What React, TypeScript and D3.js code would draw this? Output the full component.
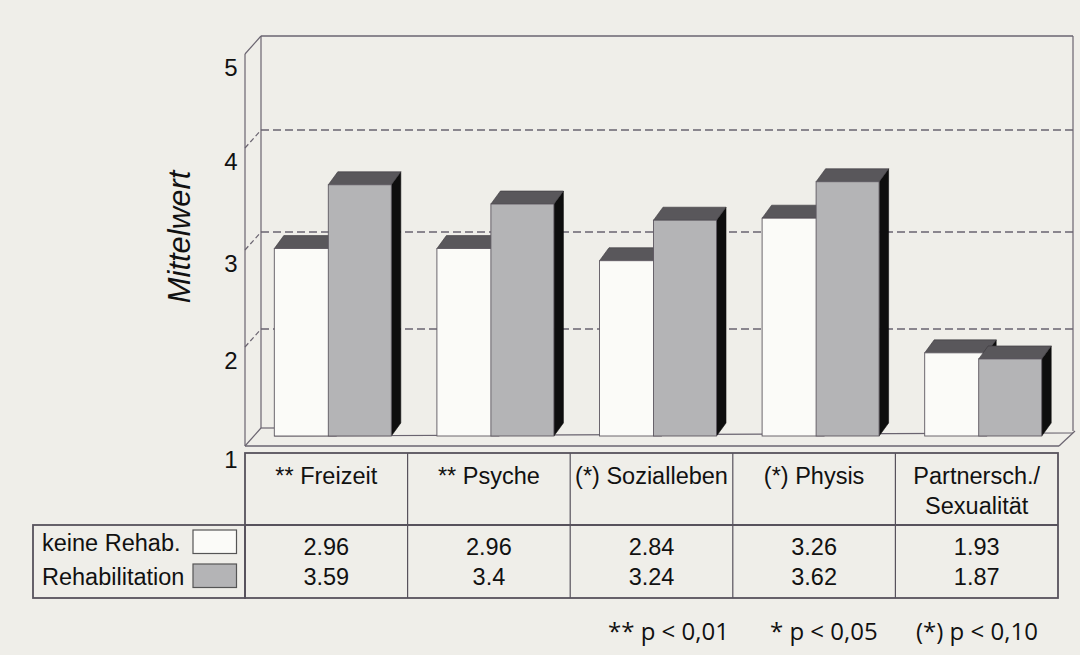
import React from "react";
import * as d3 from "d3";

const categories = ["** Freizeit", "** Psyche", "(*) Sozialleben", "(*) Physis", "Partnersch./\nSexualität"];
const keineRehab = [2.96, 2.96, 2.84, 3.26, 1.93];
const rehabilitation = [3.59, 3.4, 3.24, 3.62, 1.87];
const seriesNames = ["keine Rehab.", "Rehabilitation"];
const yTicks = [1, 2, 3, 4, 5];
const footnotes = ["** p < 0,01", "* p < 0,05", "(*) p < 0,10"];

const W = 1080;
const H = 655;
const BG = "#efeee9";
const LINE = "#6a6470";
const TABLE_LINE = "#57525c";
const WHITE = "#fbfbf8";
const GRAY = "#b4b4b6";
const TOP = "#59575b";
const SIDE = "#0e0e0e";
const FONT = "'Liberation Sans', Arial, Helvetica, sans-serif";

export default function App() {
  const wallLeft = 261;
  const wallRight = 1073;
  const depthX = 16;
  const depthY = 18;
  const yBack = d3.scaleLinear().domain([1, 2, 3, 4, 5]).range([428, 329, 232, 130, 36]);
  const yFront = (v: number) => yBack(v) + depthY;
  const frontX = wallLeft - depthX;

  const yBar = d3.scaleLinear().domain([1, 5]).range([447, 42]);
  const barBase = 436;
  const x = d3.scaleBand<string>().domain(categories).range([245, 1058]).padding(0);
  const bdx = 9.5;
  const bdy = 13;
  const whiteOff = -52;
  const whiteW = 62;
  const grayOff = 2;
  const grayW = 63;

  const tTop = 453;
  const tMid = 525;
  const tBot = 598;
  const legLeft = 33;

  const bar = (left: number, w: number, v: number, fill: string, key: string) => {
    const yt = yBar(v);
    const r = left + w;
    return (
      <g key={key}>
        <polygon
          points={`${r},${yt} ${r + bdx},${yt - bdy} ${r + bdx},${barBase - bdy} ${r},${barBase}`}
          fill={SIDE}
          stroke={SIDE}
          strokeWidth={0.6}
        />
        <polygon
          points={`${left},${yt} ${left + bdx},${yt - bdy} ${r + bdx},${yt - bdy} ${r},${yt}`}
          fill={TOP}
          stroke="#3a383c"
          strokeWidth={0.6}
        />
        <rect x={left} y={yt} width={w} height={barBase - yt} fill={fill} stroke="#5d5860" strokeWidth={0.9} />
      </g>
    );
  };

  const firstLeft = (x(categories[0]) as number) + x.bandwidth() / 2 + whiteOff;

  return (
    <svg
      width={W}
      height={H}
      style={{ position: "absolute", left: 0, top: 0, background: BG }}
      fontFamily={FONT}
    >
      <rect x={0} y={0} width={W} height={H} fill={BG} />
      <line x1={wallLeft} y1={yBack(5)} x2={wallRight} y2={yBack(5)} stroke={LINE} strokeWidth={1.3} />
      <line x1={wallLeft} y1={yBack(5)} x2={wallLeft} y2={yBack(1)} stroke={LINE} strokeWidth={1.2} />
      <line x1={wallRight} y1={yBack(5)} x2={wallRight} y2={yBack(1) + 3} stroke={LINE} strokeWidth={1.2} />
      <line x1={frontX} y1={yFront(5)} x2={frontX} y2={yFront(1)} stroke={LINE} strokeWidth={1.2} />
      <line x1={frontX} y1={yFront(5)} x2={wallLeft} y2={yBack(5)} stroke={LINE} strokeWidth={1.2} />
      {yTicks
        .filter((t) => t > 1 && t < 5)
        .map((t) => (
          <g key={"g" + t}>
            <line
              x1={wallLeft}
              y1={yBack(t)}
              x2={wallRight}
              y2={yBack(t)}
              stroke={LINE}
              strokeWidth={1.3}
              strokeDasharray="8 4"
            />
            <line
              x1={frontX}
              y1={yFront(t)}
              x2={wallLeft}
              y2={yBack(t)}
              stroke={LINE}
              strokeWidth={1.2}
              strokeDasharray="5 3"
            />
          </g>
        ))}
      <line x1={frontX} y1={yFront(1)} x2={wallLeft} y2={yBack(1)} stroke={LINE} strokeWidth={1.2} />
      <line x1={wallLeft} y1={yBack(1)} x2={firstLeft} y2={yBack(1)} stroke={LINE} strokeWidth={1.2} />
      <line x1={firstLeft} y1={barBase} x2={wallRight} y2={barBase - 3} stroke={LINE} strokeWidth={1.2} />
      <line x1={frontX} y1={yFront(1)} x2={wallRight - depthX + 2} y2={yFront(1)} stroke={LINE} strokeWidth={1.4} />
      <line
        x1={wallRight - depthX + 2}
        y1={yFront(1)}
        x2={wallRight + 2}
        y2={yBack(1) + 3}
        stroke={LINE}
        strokeWidth={1.2}
      />
      {categories.map((c, i) => {
        const cx = (x(c) as number) + x.bandwidth() / 2;
        return (
          <g key={"b" + i}>
            {bar(cx + whiteOff, whiteW, keineRehab[i], WHITE, "w")}
            {bar(cx + grayOff, grayW, rehabilitation[i], GRAY, "r")}
          </g>
        );
      })}
      {yTicks.map((t) => (
        <text key={"t" + t} x={231} y={yFront(t) + 13} fontSize={24} textAnchor="middle" dominantBaseline="central" fill="#111">
          {t}
        </text>
      ))}
      <text
        transform="translate(179,237) rotate(-90)"
        fontSize={31}
        fontStyle="italic"
        textAnchor="middle"
        dominantBaseline="central"
        fill="#111"
      >
        Mittelwert
      </text>
      <g stroke={TABLE_LINE} strokeWidth={1.8} fill="none">
        <rect x={245} y={tTop} width={1058 - 245} height={tBot - tTop} />
        <line x1={245} y1={tMid} x2={1058} y2={tMid} />
        <rect x={legLeft} y={tMid} width={245 - legLeft} height={tBot - tMid} />
      </g>
      {categories.slice(1).map((c, i) => (
        <line key={"v" + i} x1={x(c) as number} y1={tTop} x2={x(c) as number} y2={tBot} stroke={TABLE_LINE} strokeWidth={1.2} />
      ))}
      {categories.map((c, i) => {
        const cx = (x(c) as number) + x.bandwidth() / 2;
        const lines = c.split("\n");
        return (
          <g key={"h" + i}>
            {lines.map((l, j) => (
              <text key={j} x={cx} y={476 + j * 30} fontSize={23.5} textAnchor="middle" dominantBaseline="central" fill="#111">
                {l}
              </text>
            ))}
            <text x={cx} y={547} fontSize={23.5} textAnchor="middle" dominantBaseline="central" fill="#111">
              {keineRehab[i]}
            </text>
            <text x={cx} y={577} fontSize={23.5} textAnchor="middle" dominantBaseline="central" fill="#111">
              {rehabilitation[i]}
            </text>
          </g>
        );
      })}
      {seriesNames.map((s, i) => (
        <g key={"l" + i}>
          <text x={42} y={543 + i * 33.5} fontSize={23.5} dominantBaseline="central" fill="#111">
            {s}
          </text>
          <rect
            x={193}
            y={530 + i * 34}
            width={43.5}
            height={23.5}
            fill={i === 0 ? WHITE : GRAY}
            stroke="#555"
            strokeWidth={1.2}
          />
        </g>
      ))}
      {footnotes.map((f, i) => (
        <text
          key={"f" + i}
          x={[608, 770, 916][i]}
          y={630}
          fontSize={24}
          fontFamily="'Open Sans', 'Noto Sans', sans-serif"
          dominantBaseline="central"
          fill="#111"
        >
          {f}
        </text>
      ))}
    </svg>
  );
}
